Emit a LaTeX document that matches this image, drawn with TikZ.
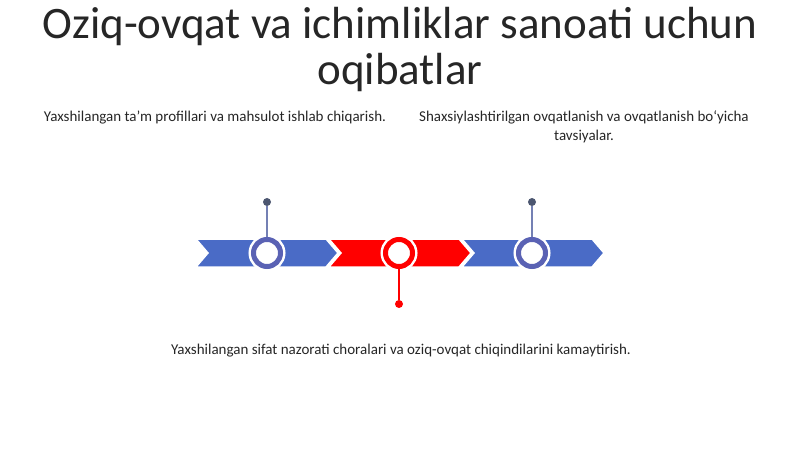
\documentclass[tikz,border=0pt]{standalone}
\usepackage{fontspec}
\setmainfont{Carlito}
\usetikzlibrary{positioning}
\definecolor{ribbonblue}{HTML}{4A6BC6}
\definecolor{ringblue}{HTML}{5A62B4}
\definecolor{pinblue}{HTML}{4C5670}
\definecolor{stemblue}{HTML}{7480B4}
\definecolor{ribbonred}{HTML}{FF0000}
\definecolor{textgray}{HTML}{262626}

% one chevron of the ribbon: left x, colour
\newcommand\chevron[2]{%
  \fill[#2, draw=white, line width=1.5pt] (#1,239) -- ++(130,0) -- ++(12,14)
    -- ++(-12,14) -- ++(-130,0) -- ++(12,-14) -- cycle;}

\tikzset{
  ring/.style={circle, inner sep=0pt, minimum size=27pt, fill=white,
    draw=#1, line width=5pt, preaction={draw=white, line width=10pt}},
  pindot/.style={circle, inner sep=0pt, minimum size=8pt, fill=#1},
  stem/.style={draw=#1, line width=1.4pt},
  caption/.style={text=textgray, font=\fontsize{15}{19}\selectfont, align=center}
}

\begin{document}
\begin{tikzpicture}[x=1pt,y=-1pt]
  \useasboundingbox (0,0) rectangle (800,449);
  %titre
  \node[text=textgray, font=\fontsize{45}{46}\selectfont, align=center] (title) at (400,50)
    {Oziq-ovqat va ichimliklar sanoati uchun\\oqibatlar};
  %ruban
  \chevron{196}{ribbonblue}
  \chevron{329}{ribbonred}
  \chevron{462}{ribbonblue}
  %epingles
  \node[pindot=pinblue] (p1) at (267,202) {};
  \node[pindot=pinblue] (p3) at (532,202) {};
  \node[pindot=ribbonred] (p2) at (399,304) {};
  \node[ring=ringblue] (m1) at (267,253) {};
  \node[ring=ribbonred] (m2) at (399,253) {};
  \node[ring=ringblue] (m3) at (532,253) {};
  \draw[stem=stemblue] (p1) -- (m1);
  \draw[stem=stemblue] (p3) -- (m3);
  \draw[stem=ribbonred] (p2) -- (m2);
  %textes
  \node[caption] (t1) at (215,118) {Yaxshilangan ta'm profillari va mahsulot ishlab chiqarish.};
  \node[caption] (t2) at (584,127) {Shaxsiylashtirilgan ovqatlanish va ovqatlanish bo‘yicha\\tavsiyalar.};
  \node[caption] (t3) at (401,351) {Yaxshilangan sifat nazorati choralari va oziq-ovqat chiqindilarini kamaytirish.};
\end{tikzpicture}
\end{document}
